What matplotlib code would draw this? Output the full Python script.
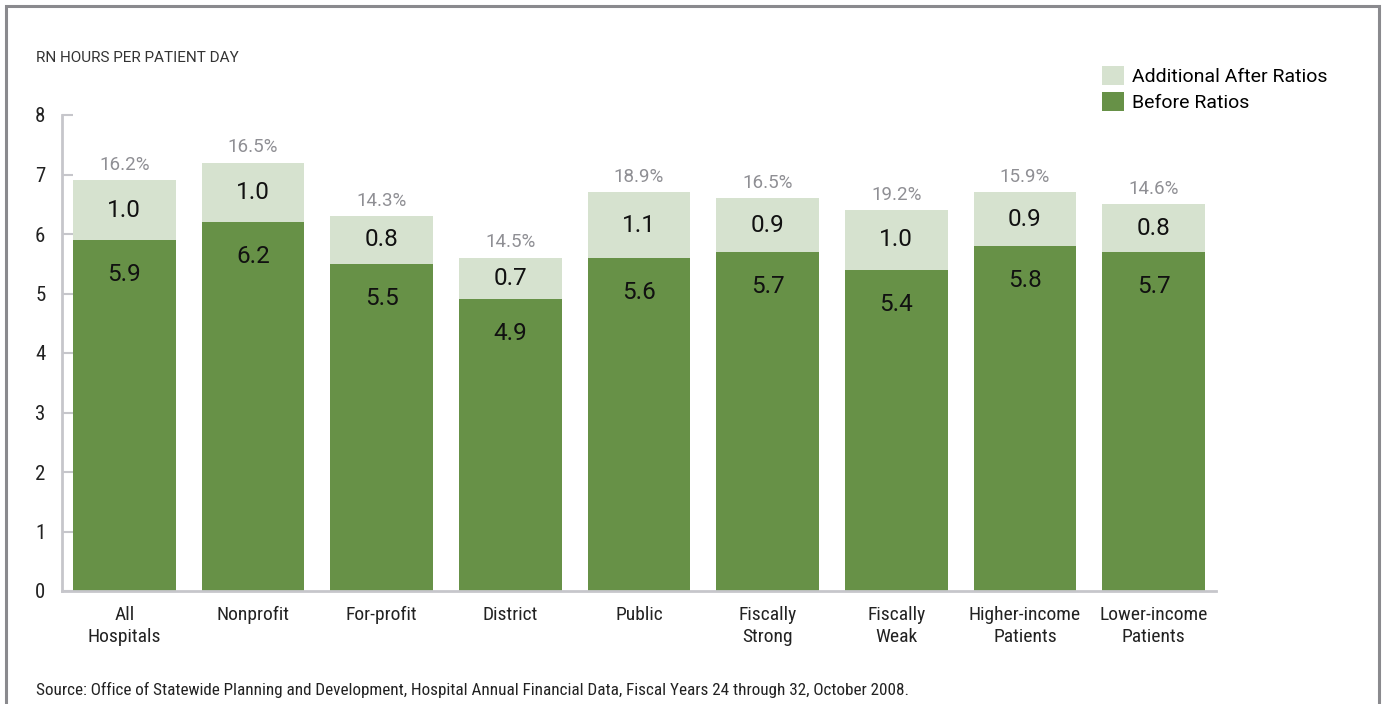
import matplotlib
matplotlib.use("Agg")
import matplotlib.pyplot as plt
from matplotlib import font_manager
from matplotlib.patches import Rectangle, Patch

categories = ["All\nHospitals", "Nonprofit", "For-profit", "District", "Public",
              "Fiscally\nStrong", "Fiscally\nWeak", "Higher-income\nPatients", "Lower-income\nPatients"]
before = [5.9, 6.2, 5.5, 4.9, 5.6, 5.7, 5.4, 5.8, 5.7]
additional = [1.0, 1.0, 0.8, 0.7, 1.1, 0.9, 1.0, 0.9, 0.8]
pct_labels = ["16.2%", "16.5%", "14.3%", "14.5%", "18.9%", "16.5%", "19.2%", "15.9%", "14.6%"]
y_ticks = [0, 1, 2, 3, 4, 5, 6, 7, 8]

avail = {f.name for f in font_manager.fontManager.ttflist}
cond = "Liberation Sans"
for c in ["Liberation Sans Narrow", "Roboto Condensed", "Open Sans Condensed", "DejaVu Sans Condensed"]:
    if c in avail:
        cond = c
        break
reg = "Roboto" if "Roboto" in avail else "DejaVu Sans"

DARK = "#679147"
LIGHT = "#d6e2cf"
AXC = "#c6c6cb"

fig = plt.figure(figsize=(13.82, 7.04), dpi=100)
W, H = 1382, 704
ax = fig.add_axes([62 / W, 113 / H, 1154 / W, 476 / H])

x = list(range(len(categories)))
bw = 103 / 129
ax.bar(x, before, width=bw, color=DARK, zorder=2)
ax.bar(x, additional, width=bw, bottom=before, color=LIGHT, zorder=2)

for i in x:
    ax.text(i, before[i] - 0.58, f"{before[i]:.1f}", ha="center", va="center",
            fontsize=17.5, family=reg, color="#111111")
    ax.text(i, before[i] + additional[i] / 2, f"{additional[i]:.1f}", ha="center", va="center",
            fontsize=17.5, family=reg, color="#111111")
    ax.text(i, before[i] + additional[i] + 0.11, pct_labels[i], ha="center", va="bottom",
            fontsize=13.5, family=reg, color="#8f8f94")

ax.set_xlim(-0.4845, len(categories) - 1 + 0.4845)
ax.set_ylim(0, 8)
ax.set_yticks(y_ticks)
ax.set_xticks(x)
ax.set_xticklabels(categories, family=cond, fontsize=14, color="#222222", linespacing=1.3)
for lab in ax.get_yticklabels():
    lab.set_family(cond)
    lab.set_fontsize(15)
    lab.set_color("#222222")
ax.tick_params(axis="y", direction="in", length=8, width=1.5, color=AXC, pad=12)
ax.tick_params(axis="x", length=0, pad=11)
for s in ["top", "right"]:
    ax.spines[s].set_visible(False)
for s in ["left", "bottom"]:
    ax.spines[s].set_color(AXC)
    ax.spines[s].set_linewidth(2)

fig.text(36 / W, 1 - 58 / H, "RN HOURS PER PATIENT DAY", fontsize=11, family=reg,
         color="#333333", va="center", ha="left")

handles = [Patch(facecolor=LIGHT, label="Additional After Ratios"),
           Patch(facecolor=DARK, label="Before Ratios")]
fig.legend(handles=handles, loc="upper left", bbox_to_anchor=(1094 / W, 1 - 58 / H),
           frameon=False, prop={"family": reg, "size": 14}, handlelength=1.13, handleheight=1.13,
           handletextpad=0.4, labelspacing=0.3, borderaxespad=0)

fig.text(36 / W, 1 - 690 / H, "Source: Office of Statewide Planning and Development, Hospital Annual Financial Data, Fiscal Years 24 through 32, October 2008.",
         fontsize=12.3, family=cond, color="#222222", va="center", ha="left")

fig.patches.append(Rectangle((6 / W, -0.05), (1379 - 6) / W, 1 - 6 / H + 0.05,
                             transform=fig.transFigure, fill=False, edgecolor="#8a8a8e",
                             linewidth=2.2, clip_on=False))

fig.savefig("out.png", dpi=100)
